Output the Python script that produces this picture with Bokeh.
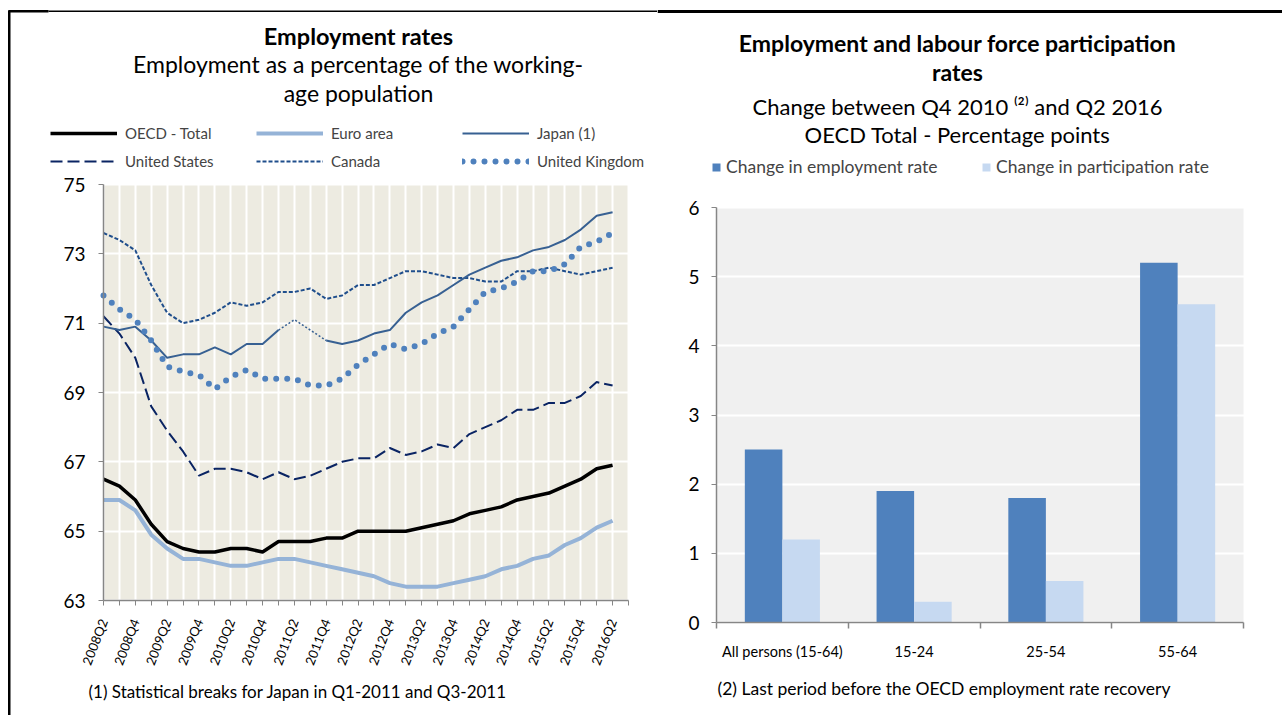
from bokeh.plotting import figure
from bokeh.models import Range1d, FixedTicker, Legend, LegendItem, Label, BoxAnnotation
from bokeh.layouts import row
from bokeh.embed import file_html
from bokeh.resources import INLINE

FONT = "Lato"

# ---------------- data: left chart ----------------
quarters = ["2008Q2", "2008Q3", "2008Q4", "2009Q1", "2009Q2", "2009Q3", "2009Q4",
            "2010Q1", "2010Q2", "2010Q3", "2010Q4", "2011Q1", "2011Q2", "2011Q3",
            "2011Q4", "2012Q1", "2012Q2", "2012Q3", "2012Q4", "2013Q1", "2013Q2",
            "2013Q3", "2013Q4", "2014Q1", "2014Q2", "2014Q3", "2014Q4", "2015Q1",
            "2015Q2", "2015Q3", "2015Q4", "2016Q1", "2016Q2"]
oecd = [66.5, 66.3, 65.9, 65.2, 64.7, 64.5, 64.4, 64.4, 64.5, 64.5, 64.4, 64.7, 64.7,
        64.7, 64.8, 64.8, 65.0, 65.0, 65.0, 65.0, 65.1, 65.2, 65.3, 65.5, 65.6, 65.7,
        65.9, 66.0, 66.1, 66.3, 66.5, 66.8, 66.9]
euro = [65.9, 65.9, 65.6, 64.9, 64.5, 64.2, 64.2, 64.1, 64.0, 64.0, 64.1, 64.2, 64.2,
        64.1, 64.0, 63.9, 63.8, 63.7, 63.5, 63.4, 63.4, 63.4, 63.5, 63.6, 63.7, 63.9,
        64.0, 64.2, 64.3, 64.6, 64.8, 65.1, 65.3]
japan = [70.9, 70.8, 70.9, 70.5, 70.0, 70.1, 70.1, 70.3, 70.1, 70.4, 70.4, 70.8, 71.1,
         70.8, 70.5, 70.4, 70.5, 70.7, 70.8, 71.3, 71.6, 71.8, 72.1, 72.4, 72.6, 72.8,
         72.9, 73.1, 73.2, 73.4, 73.7, 74.1, 74.2]
us = [71.2, 70.7, 70.0, 68.6, 67.9, 67.3, 66.6, 66.8, 66.8, 66.7, 66.5, 66.7, 66.5,
      66.6, 66.8, 67.0, 67.1, 67.1, 67.4, 67.2, 67.3, 67.5, 67.4, 67.8, 68.0, 68.2,
      68.5, 68.5, 68.7, 68.7, 68.9, 69.3, 69.2]
canada = [73.6, 73.4, 73.1, 72.1, 71.3, 71.0, 71.1, 71.3, 71.6, 71.5, 71.6, 71.9, 71.9,
          72.0, 71.7, 71.8, 72.1, 72.1, 72.3, 72.5, 72.5, 72.4, 72.3, 72.3, 72.2, 72.2,
          72.5, 72.5, 72.6, 72.5, 72.4, 72.5, 72.6]
uk = [71.8, 71.4, 71.1, 70.5, 69.75, 69.6, 69.5, 69.1, 69.45, 69.65, 69.4, 69.4, 69.4,
      69.2, 69.2, 69.4, 69.8, 70.1, 70.4, 70.25, 70.4, 70.7, 70.9, 71.4, 71.9, 72.0,
      72.2, 72.5, 72.5, 72.7, 73.2, 73.35, 73.6]
japan_break = ["2011Q1", "2011Q4"]   # dotted stretch (statistical breaks)
left_yticks = [63, 65, 67, 69, 71, 73, 75]

# ---------------- data: right chart ----------------
groups = ["All persons (15-64)", "15-24", "25-54", "55-64"]
emp_change = [2.5, 1.9, 1.8, 5.2]
part_change = [1.2, 0.3, 0.6, 4.6]
right_yticks = [0, 1, 2, 3, 4, 5, 6]

AXIS_GRAY = "#868686"
W1, W2, H = 657, 625, 715

# pixel <-> data helpers (layout only)
L_X0, L_X1, L_PX0, L_PX1 = 0, 33, 103, 628
L_Y0, L_Y1, L_PY0, L_PY1 = 63, 75, 600, 184
def lx(px):
    return L_X0 + (px - L_PX0) * (L_X1 - L_X0) / (L_PX1 - L_PX0)
def ly(py):
    return L_Y0 + (py - L_PY0) * (L_Y1 - L_Y0) / (L_PY1 - L_PY0)

R_X0, R_X1, R_PX0, R_PX1 = 0, 4, 716 - W1, 1243 - W1
R_Y0, R_Y1, R_PY0, R_PY1 = 0, 6, 622, 207
def rx(px):
    return R_X0 + (px - R_PX0) * (R_X1 - R_X0) / (R_PX1 - R_PX0)
def ry(py):
    return R_Y0 + (py - R_PY0) * (R_Y1 - R_Y0) / (R_PY1 - R_PY0)


def label(p, text, x, y, size, bold=False, align="center"):
    p.add_layout(Label(x=x, y=y, text=text,
                       text_font=FONT, text_font_size=size,
                       text_font_style="bold" if bold else "normal",
                       text_align=align, text_baseline="middle", text_color="black"))


def border(p, fx, fy, x0, x1, y0, y1):
    p.add_layout(BoxAnnotation(left=fx(x0), right=fx(x1), top=fy(y0), bottom=fy(y1),
                               fill_color="black", fill_alpha=1, line_color=None,
                               level="overlay"))


# =============== LEFT FIGURE ===============
p1 = figure(width=W1, height=H, x_range=Range1d(lx(0), lx(W1)), y_range=Range1d(ly(H), ly(0)),
            output_backend="svg", toolbar_location=None, title=None,
            min_border=0, background_fill_color="white", border_fill_color="white",
            outline_line_color=None)

p1.add_layout(BoxAnnotation(left=L_X0, right=L_X1, bottom=L_Y0, top=L_Y1,
                            fill_color="#EDEBE1", fill_alpha=1, line_color=None, level="image"))

xs = list(range(len(quarters)))
i0, i1 = quarters.index(japan_break[0]), quarters.index(japan_break[1])
japan_solid = [v if not (i0 < i < i1) else float("nan") for i, v in enumerate(japan)]

r_euro = p1.line(xs, euro, line_color="#95B3D7", line_width=4)
r_can = p1.line(xs, canada, line_color="#1F4E8C", line_width=2, line_dash="4 2")
r_us = p1.line(xs, us, line_color="#0A2463", line_width=2, line_dash="12 5")
r_jap = p1.line(xs, japan_solid, line_color="#376092", line_width=2)
p1.line(xs[i0:i1 + 1], japan[i0:i1 + 1], line_color="#376092", line_width=1.5, line_dash="2 2")
r_uk = p1.line(xs, uk, line_color="#4F81BD", line_width=6, line_dash="0 11", line_cap="round")
r_oecd = p1.line(xs, oecd, line_color="black", line_width=3.5)

xa, ya = p1.xaxis[0], p1.yaxis[0]
xa.fixed_location = L_Y0
xa.bounds = (L_X0, L_X1)
xa.ticker = FixedTicker(ticks=list(range(L_X1 + 1)))
xa.major_label_overrides = {i: (quarters[i] if (i % 2 == 0 and i < len(quarters)) else "")
                            for i in range(L_X1 + 1)}
xa.major_label_orientation = 1.2
xa.major_label_text_font_size = "13px"
xa.major_label_standoff = 14
ya.fixed_location = L_X0
ya.bounds = (L_Y0, L_Y1)
ya.ticker = FixedTicker(ticks=left_yticks)
ya.major_label_text_font_size = "19px"
ya.major_label_standoff = 13
for ax in (xa, ya):
    ax.major_label_text_font = FONT
    ax.major_label_text_color = "black"
    ax.axis_line_color = AXIS_GRAY
    ax.axis_line_width = 1.5
    ax.major_tick_line_color = AXIS_GRAY
    ax.major_tick_out = 5
    ax.major_tick_in = 0
    ax.minor_tick_line_color = None
p1.xgrid.ticker = FixedTicker(ticks=list(range(L_X1 + 1)))
p1.xgrid.grid_line_color = "white"
p1.xgrid.grid_line_width = 2
p1.ygrid.ticker = FixedTicker(ticks=left_yticks)
p1.ygrid.grid_line_color = "white"
p1.ygrid.grid_line_width = 2

leg1 = Legend(items=[LegendItem(label="OECD - Total", renderers=[r_oecd]),
                     LegendItem(label="Euro area", renderers=[r_euro]),
                     LegendItem(label="Japan (1)", renderers=[r_jap]),
                     LegendItem(label="United States", renderers=[r_us]),
                     LegendItem(label="Canada", renderers=[r_can]),
                     LegendItem(label="United Kingdom", renderers=[r_uk])],
              location=(50, H - 171), orientation="horizontal", ncols=3,
              glyph_width=67, glyph_height=20, label_height=20, label_standoff=8,
              label_width=123, spacing=8, padding=0, margin=0,
              border_line_color=None, background_fill_alpha=0,
              label_text_font=FONT, label_text_font_size="15px")
p1.add_layout(leg1)

label(p1, "Employment rates", lx(358), ly(35), "23.5px", bold=True)
label(p1, "Employment as a percentage of the working-", lx(358), ly(63), "23px")
label(p1, "age population", lx(358), ly(92), "23px")
label(p1, "(1) Statistical breaks for Japan in Q1-2011 and Q3-2011", lx(88), ly(691), "17px",
      align="left")
# panel frame lines (top and left), as in the source layout
border(p1, lx, ly, 8, 48, 9.5, 12)
border(p1, lx, ly, 48, W1, 10, 11.5)
border(p1, lx, ly, 7.5, 10, 10, H)

# =============== RIGHT FIGURE ===============
p2 = figure(width=W2, height=H, x_range=Range1d(rx(0), rx(W2)), y_range=Range1d(ry(H), ry(0)),
            output_backend="svg", toolbar_location=None, title=None,
            min_border=0, background_fill_color="white", border_fill_color="white",
            outline_line_color=None)

p2.add_layout(BoxAnnotation(left=R_X0, right=R_X1, bottom=R_Y0, top=R_Y1,
                            fill_color="#F0F0F0", fill_alpha=1, line_color=None, level="image"))

bw = 0.285
centers = [i + 0.5 for i in range(len(groups))]
r_emp = p2.vbar(x=[c - bw / 2 for c in centers], top=emp_change, width=bw,
                fill_color="#4F81BD", line_color=None)
r_part = p2.vbar(x=[c + bw / 2 for c in centers], top=part_change, width=bw,
                 fill_color="#C6D9F1", line_color=None)

xb, yb = p2.xaxis[0], p2.yaxis[0]
xb.fixed_location = R_Y0
xb.bounds = (R_X0, R_X1)
xb.ticker = FixedTicker(ticks=centers, minor_ticks=list(range(len(groups) + 1)))
xb.major_label_overrides = {c: g for c, g in zip(centers, groups)}
xb.major_tick_out = 0
xb.major_tick_in = 0
xb.minor_tick_out = 6
xb.minor_tick_in = 0
xb.minor_tick_line_color = AXIS_GRAY
xb.minor_tick_line_width = 1.5
xb.major_label_standoff = 14
xb.major_label_text_font_size = "14.5px"
yb.fixed_location = R_X0
yb.bounds = (R_Y0, R_Y1)
yb.ticker = FixedTicker(ticks=right_yticks)
yb.major_label_text_font_size = "19px"
yb.major_label_standoff = 12
yb.major_tick_out = 5
yb.major_tick_in = 0
yb.major_tick_line_color = AXIS_GRAY
yb.minor_tick_line_color = None
for ax in (xb, yb):
    ax.major_label_text_font = FONT
    ax.major_label_text_color = "black"
    ax.axis_line_color = AXIS_GRAY
    ax.axis_line_width = 1.5
p2.xgrid.visible = False
p2.ygrid.ticker = FixedTicker(ticks=right_yticks)
p2.ygrid.grid_line_color = "white"
p2.ygrid.grid_line_width = 2

leg2 = Legend(items=[LegendItem(label="Change in employment rate", renderers=[r_emp]),
                     LegendItem(label="Change in participation rate", renderers=[r_part])],
              location=(711 - W1, H - 177), orientation="horizontal",
              glyph_width=10, glyph_height=10, label_height=10, label_standoff=5,
              label_width=255, spacing=0, padding=0, margin=0,
              border_line_color=None, background_fill_alpha=0,
              label_text_font=FONT, label_text_font_size="17.5px")
p2.add_layout(leg2)

label(p2, "Employment and labour force participation", rx(957 - W1), ry(42), "23px", bold=True)
label(p2, "rates", rx(957 - W1), ry(71), "23px", bold=True)
label(p2, "Change between Q4 2010 \u207d\u00b2\u207e and Q2 2016", rx(957 - W1), ry(106), "22px")
label(p2, "OECD Total - Percentage points", rx(957 - W1), ry(134), "22px")
label(p2, "(2) Last period before the  OECD employment rate recovery", rx(717 - W1), ry(688),
      "17.5px", align="left")
border(p2, rx, ry, 0, W2, 9.5, 12.5)

layout = row(p1, p2)
open("out.html", "w").write(file_html(layout, INLINE))
